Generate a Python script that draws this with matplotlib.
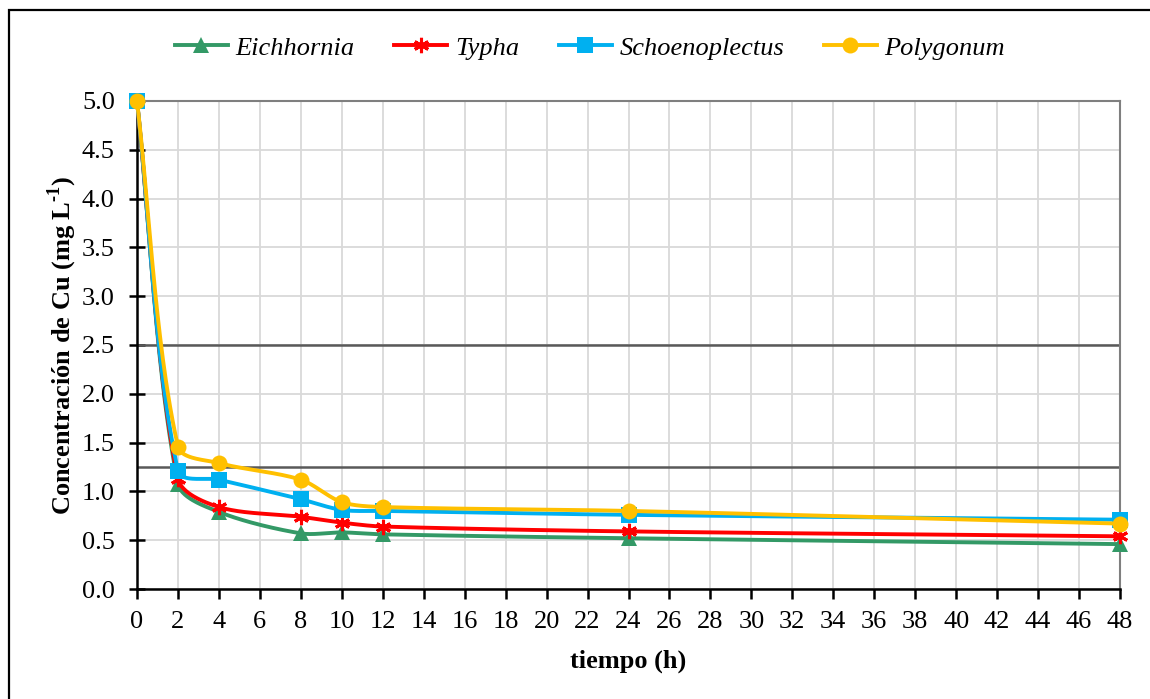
import numpy as np
import matplotlib
matplotlib.use("Agg")
import matplotlib.pyplot as plt
from matplotlib.lines import Line2D

plt.rcParams['font.family'] = ['Liberation Serif', 'DejaVu Serif']
plt.rcParams['mathtext.fontset'] = 'custom'
plt.rcParams['mathtext.rm'] = 'Liberation Serif'
plt.rcParams['mathtext.bf'] = 'Liberation Serif:bold'

tiempo = [0, 2, 4, 8, 10, 12, 24, 48]
eichhornia = [5.0, 1.08, 0.79, 0.57, 0.58, 0.56, 0.52, 0.46]
typha = [5.0, 1.13, 0.84, 0.74, 0.68, 0.64, 0.59, 0.54]
schoenoplectus = [5.0, 1.21, 1.12, 0.92, 0.81, 0.80, 0.76, 0.71]
polygonum = [5.0, 1.46, 1.29, 1.12, 0.89, 0.84, 0.80, 0.67]

names = ['Eichhornia', 'Typha', 'Schoenoplectus', 'Polygonum']
series = [eichhornia, typha, schoenoplectus, polygonum]
colors = ['#339966', '#FF0000', '#00B0F0', '#FFC000']
markers = ['^', (6, 2, 0), 's', 'o']
msizes = [12, 11, 11, 11.5]

x_ticks = list(range(0, 49, 2))
y_ticks = [0.0, 0.5, 1.0, 1.5, 2.0, 2.5, 3.0, 3.5, 4.0, 4.5, 5.0]
ref_lines = [2.5, 1.25]

FS = 19
W, H = 1150, 699
fig = plt.figure(figsize=(W / 100, H / 100), dpi=100)
ax = fig.add_axes([137 / W, 1 - 589 / H, (1120 - 137) / W, (589 - 101) / H])
ax.set_xlim(0, 48)
ax.set_ylim(0, 5)

# outer border (only top/left visible in reference)
fig.add_artist(plt.Rectangle((9 / W, -0.05), 1.2, (1 - 10 / H) + 0.05,
                             transform=fig.transFigure, fill=False,
                             edgecolor='black', linewidth=1.6))

ax.set_xticks(x_ticks)
ax.set_yticks(y_ticks)
ax.set_yticklabels([f'{v:.1f}' for v in y_ticks])
ax.grid(True, color='#D9D9D9', linewidth=1.3, zorder=0)
ax.set_axisbelow(True)
for v in ref_lines:
    ax.axhline(v, color='#595959', linewidth=1.8, zorder=1)

for s in ['top', 'right']:
    ax.spines[s].set_color('#7F7F7F')
    ax.spines[s].set_linewidth(1.5)
for s in ['left', 'bottom']:
    ax.spines[s].set_color('black')
    ax.spines[s].set_linewidth(1.8)
ax.tick_params(axis='y', direction='inout', length=12, width=1.8, labelsize=FS, pad=10)
ax.tick_params(axis='x', direction='out', length=7, width=1.8, labelsize=FS, pad=9)

fig.canvas.draw()


def smooth(xs, ys, n=50, f=0.3):
    pts = ax.transData.transform(np.column_stack([xs, ys]))
    P = np.vstack([pts[0], pts, pts[-1]])
    out = []
    for i in range(1, len(P) - 2):
        p0, p1, p2, p3 = P[i - 1], P[i], P[i + 1], P[i + 2]
        seg = np.linalg.norm(p2 - p1)
        d1 = p2 - p0
        d2 = p3 - p1
        d1 = d1 / (np.linalg.norm(d1) or 1)
        d2 = d2 / (np.linalg.norm(d2) or 1)
        c1 = p1 + d1 * seg * f
        c2 = p2 - d2 * seg * f
        t = np.linspace(0, 1, n)[:, None]
        b = ((1 - t) ** 3) * p1 + 3 * ((1 - t) ** 2) * t * c1 + 3 * (1 - t) * t ** 2 * c2 + t ** 3 * p2
        out.append(b if i == 1 else b[1:])
    out = np.vstack(out)
    d = ax.transData.inverted().transform(out)
    return d[:, 0], d[:, 1]


handles = []
for i, (name, ys, c, m, ms) in enumerate(zip(names, series, colors, markers, msizes)):
    sx, sy = smooth(tiempo, ys)
    ax.plot(sx, sy, color=c, linewidth=2.8, zorder=3 + i, clip_on=False)
    mew = 2.2 if isinstance(m, tuple) else 0
    ax.plot(tiempo, ys, linestyle='none', marker=m, markersize=ms, color=c,
            markeredgecolor=c, markeredgewidth=mew, zorder=3 + i, clip_on=False)
    handles.append(Line2D([], [], color=c, linewidth=2.8, marker=m, markersize=ms,
                          markeredgecolor=c, markeredgewidth=mew))

fig.legend(handles, names, loc='center', bbox_to_anchor=(590 / W, 1 - 48 / H), ncol=4,
           frameon=False, prop={'style': 'italic', 'size': FS}, handlelength=2.0,
           columnspacing=1.5, handletextpad=0.3)

ax.set_xlabel('tiempo (h)', fontsize=FS, fontweight='bold', labelpad=12)
ax.set_ylabel('Concentración de Cu (mg L$^{\\mathbf{\u2010}\\mathbf{1}}$)', fontsize=FS,
              fontweight='bold', labelpad=2)

fig.savefig('out.png', dpi=100)
